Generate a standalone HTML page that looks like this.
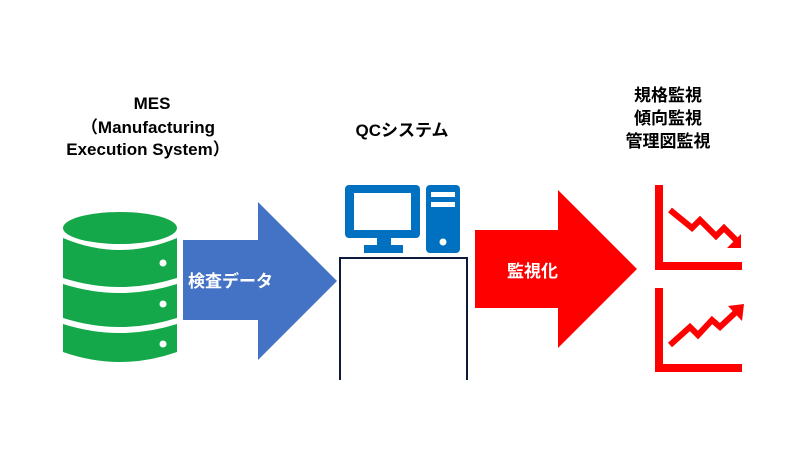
<!DOCTYPE html>
<html><head><meta charset="utf-8"><style>
body{margin:0;background:#fff;width:800px;height:450px;overflow:hidden}
text{font-family:"Liberation Sans","Noto Sans CJK JP",sans-serif;font-weight:bold}
</style></head><body>
<svg width="800" height="450" viewBox="0 0 800 450">
<g font-size="17" text-anchor="middle" fill="#000">
<text x="152" y="109">MES</text>
<text x="148" y="133">（Manufacturing</text>
<text x="148" y="155">Execution System）</text>
<text x="402" y="136">QCシステム</text>
<text x="668" y="101">規格監視</text>
<text x="668" y="124">傾向監視</text>
<text x="668" y="147">管理図監視</text>
</g>
<g fill="#14a84a">
<ellipse cx="120" cy="228" rx="57" ry="16"/>
<path d="M63 238 Q120 262 177 238 V278 Q120 296 63 278Z"/>
<path d="M63 284 Q120 302 177 284 V318 Q120 336 63 318Z"/>
<path d="M63 324 Q120 342 177 324 V352 Q120 372 63 352Z"/>
</g>
<g fill="#fff"><circle cx="163" cy="263" r="3.5"/><circle cx="163" cy="304" r="3.5"/><circle cx="163" cy="344" r="3.5"/></g>
<path d="M183 240 H258 V202 L337 281 L258 360 V320 H183Z" fill="#4472c4"/>
<text x="188" y="287" font-size="17" fill="#fff">検査データ</text>
<path d="M340 380 V258 H467 V380" fill="none" stroke="#0d1a3a" stroke-width="2"/>
<rect x="345" y="185" width="75" height="53" rx="4" fill="#0070c0"/>
<rect x="354" y="193" width="57" height="37" fill="#fff"/>
<rect x="377" y="238" width="14" height="8" fill="#0070c0"/>
<rect x="364" y="245" width="39" height="8" fill="#0070c0"/>
<rect x="426" y="185" width="34" height="68" rx="4" fill="#0070c0"/>
<rect x="431" y="192" width="24" height="5" fill="#fff"/>
<rect x="431" y="202" width="24" height="5" fill="#fff"/>
<circle cx="443" cy="242" r="3.5" fill="#fff"/>
<path d="M475 230 H558 V190 L637 269 L558 348 V308 H475Z" fill="#f00"/>
<text x="507" y="277" font-size="17" fill="#fff">監視化</text>
<g fill="none" stroke="#f00" stroke-width="8">
<path d="M659 185 V266 H742"/>
<path d="M659 288 V368 H742"/>
<path d="M670 210 L692 228 L700 220 L716 236 L724 228 L736 240" stroke-width="6"/>
<path d="M670 345 L690 327 L698 335 L712 320 L720 327 L736 312" stroke-width="6"/>
</g>
<path d="M741 248 L727 248 L741 234Z" fill="#f00"/>
<path d="M744 304 L728 306 L742 321Z" fill="#f00"/>
</svg>
</body></html>
